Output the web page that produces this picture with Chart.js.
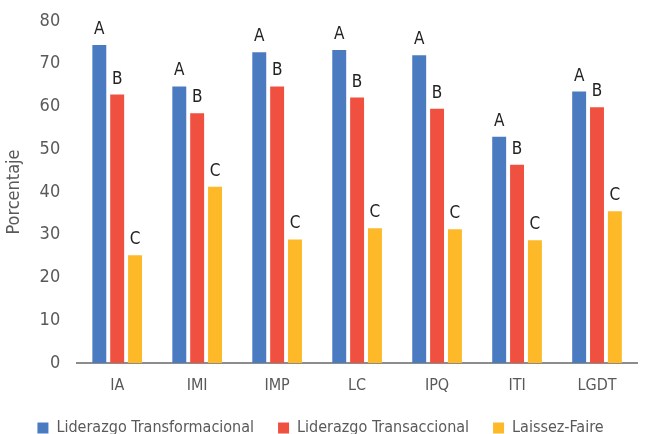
<!DOCTYPE html>
<html>
<head>
<meta charset="utf-8">
<script src="https://cdn.jsdelivr.net/npm/chart.js@4/dist/chart.umd.min.js"></script>
<style>
  html, body { margin: 0; padding: 0; background: #fff; }
  #wrap { width: 646px; height: 434px; }
</style>
</head>
<body>
<div id="wrap"><canvas id="c"></canvas></div>
<script>
const categories = ['IA', 'IMI', 'IMP', 'LC', 'IPQ', 'ITI', 'LGDT'];
const transformacional = [74.4, 64.7, 72.7, 73.2, 72.0, 52.9, 63.5];
const transaccional = [62.8, 58.4, 64.7, 62.1, 59.5, 46.4, 59.8];
const laissezFaire = [25.2, 41.2, 28.9, 31.5, 31.3, 28.7, 35.5];
const groupLetters = ['A', 'B', 'C'];
const yTicks = { min: 0, max: 80, step: 10 };

const FONT = '"DejaVu Sans Condensed", Lato, sans-serif';

// Letters written above each bar of a dataset
const letterPlugin = {
  id: 'letters',
  afterDatasetsDraw(chart) {
    const ctx = chart.ctx;
    ctx.save();
    ctx.font = '17px ' + FONT;
    ctx.fillStyle = '#222';
    ctx.textAlign = 'center';
    ctx.textBaseline = 'alphabetic';
    chart.data.datasets.forEach((ds, i) => {
      const meta = chart.getDatasetMeta(i);
      meta.data.forEach(bar => {
        ctx.fillText(groupLetters[i], bar.x, bar.y - 11);
      });
    });
    ctx.restore();
  }
};

// Keep the legend row compact in height while its items stay widely spaced
const legendHeight = {
  id: 'legendHeight',
  beforeInit(chart) {
    const lg = chart.legend;
    const fit = lg.fit;
    lg.fit = function () {
      fit.call(this);
      this.height = 38;
    };
  }
};

new Chart(document.getElementById('c'), {
  type: 'bar',
  data: {
    labels: categories,
    datasets: [
      { label: 'Liderazgo Transformacional', data: transformacional, backgroundColor: '#4a7bc1' },
      { label: 'Liderazgo Transaccional', data: transaccional, backgroundColor: '#ef5040' },
      { label: 'Laissez-Faire', data: laissezFaire, backgroundColor: '#fdb927' }
    ]
  },
  options: {
    responsive: true,
    maintainAspectRatio: false,
    animation: false,
    layout: { padding: { left: 4, right: 9, top: 21, bottom: 0 } },
    datasets: { bar: { categoryPercentage: 0.67, barPercentage: 0.78 } },
    plugins: {
      legend: {
        position: 'bottom',
        labels: {
          font: { family: FONT, size: 16 },
          color: '#595959',
          boxWidth: 11,
          boxHeight: 11,
          padding: 24
        }
      },
      tooltip: { enabled: false }
    },
    scales: {
      x: {
        grid: { display: false, drawTicks: false },
        border: { display: true, color: '#8c8c8c', width: 2 },
        ticks: { font: { family: FONT, size: 16 }, color: '#595959', padding: 13 },
        afterFit(scale) { scale.height = 33; }
      },
      y: {
        min: yTicks.min,
        max: yTicks.max,
        grid: { display: false, drawTicks: false },
        border: { display: false },
        ticks: { stepSize: yTicks.step, font: { family: FONT, size: 18 }, color: '#595959', padding: 17 },
        title: { display: true, text: 'Porcentaje', font: { family: FONT, size: 18 }, color: '#595959', padding: { top: 0, bottom: -3 } },
        afterFit(scale) { scale.paddingTop = 10; scale.paddingBottom = 10; }
      }
    }
  },
  plugins: [letterPlugin, legendHeight]
});
</script>
</body>
</html>
